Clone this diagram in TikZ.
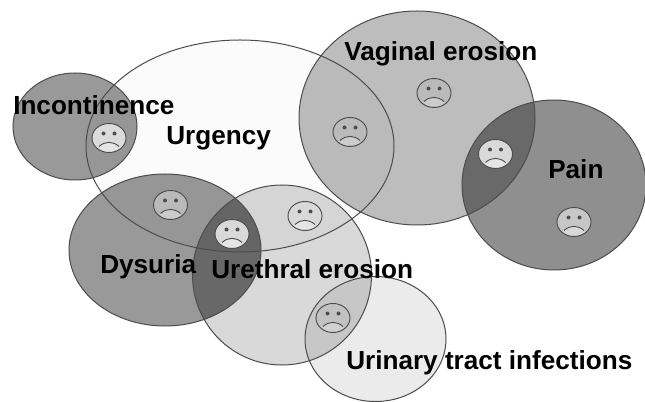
\documentclass[tikz,border=0pt]{standalone}
\usepackage{fontspec}
\setmainfont{Liberation Sans}
\newcommand{\sadface}[4]{%
 \begin{scope}[shift={(#1,#2)}]
  \fill[fill=#3] (0,0) ellipse [x radius=17, y radius=14.5];
  \fill[fill=#4] (-11,10) .. controls (-6,2) and (6,2) .. (11,10) .. controls (6,15) and (-6,15) .. (-11,10) -- cycle;
  \draw[faceline] (0,0) ellipse [x radius=17, y radius=14.5];
  \fill[black!70] (-5.5,-4.5) circle [radius=2];
  \fill[black!70] (5.5,-4.5) circle [radius=2];
  \draw[faceline] (-10,8.5) .. controls (-4,3) and (4,3) .. (10,8.5);
 \end{scope}}
\tikzset{
 blob/.style={draw=black!70, line width=.75pt},
 faceline/.style={draw=black!70, line width=.7pt},
 lab/.style={anchor=base west, inner sep=0pt, font=\fontsize{19.6}{20}\selectfont\bfseries, text=black}
}
\begin{document}
\begin{tikzpicture}[x=.75pt,y=-.75pt]
\useasboundingbox (0,0) rectangle (645,402);
\fill[white] (0,0) rectangle (645,402);
% Regions
\fill[black,fill opacity=.40] (75,126.5) ellipse [x radius=62, y radius=53.5];
\fill[black,fill opacity=.40] (165,250) ellipse [x radius=96, y radius=76];
\fill[black,fill opacity=.15] (282,275) ellipse [x radius=89.5, y radius=90];
\fill[black,fill opacity=.08] (375.5,339) ellipse [x radius=70.5, y radius=62.5];
\fill[black,fill opacity=.26] (417,118) ellipse [x radius=118, y radius=107];
\fill[black,fill opacity=.44] (554,185) ellipse [x radius=92, y radius=85];
\fill[black,fill opacity=.015] (240,146) ellipse [x radius=154, y radius=106];
% Extra shade of the Dysuria / Urethral overlap
\begin{scope}
 \clip (165,250) ellipse [x radius=96, y radius=76];
 \fill[black,fill opacity=.2] (282,275) ellipse [x radius=89.5, y radius=90];
\end{scope}
% Outlines
\draw[blob] (75,126.5) ellipse [x radius=62, y radius=53.5];
\draw[blob] (240,146) ellipse [x radius=154, y radius=106];
\draw[blob] (165,250) ellipse [x radius=96, y radius=76];
\draw[blob] (282,275) ellipse [x radius=89.5, y radius=90];
\draw[blob] (375.5,339) ellipse [x radius=70.5, y radius=62.5];
\draw[blob] (417,118) ellipse [x radius=118, y radius=107];
\draw[blob] (554,185) ellipse [x radius=92, y radius=85];
% Faces
\sadface{109}{138}{black!14}{black!10}
\sadface{170.5}{205}{black!27}{black!20}
\sadface{232}{234}{black!15}{black!10}
\sadface{305}{216}{black!15}{black!10}
\sadface{350}{132}{black!27}{black!20}
\sadface{434}{93}{black!27}{black!20}
\sadface{495.5}{154}{black!15}{black!10}
\sadface{574}{222}{black!22}{black!15}
\sadface{333}{318}{black!24}{black!18}
% Labels
\node[lab] (inc) at (13,114.5) {Incontinence};
\node[lab] (urg) at (166,144.5) {Urgency};
\node[lab] (vag) at (344,61) {Vaginal erosion};
\node[lab] (pain) at (548,178.5) {Pain};
\node[lab] (dys) at (100,273.5) {Dysuria};
\node[lab] (ure) at (211,279) {Urethral erosion};
\node[lab] (uti) at (346,369.5) {Urinary tract infections};
\end{tikzpicture}
\end{document}
